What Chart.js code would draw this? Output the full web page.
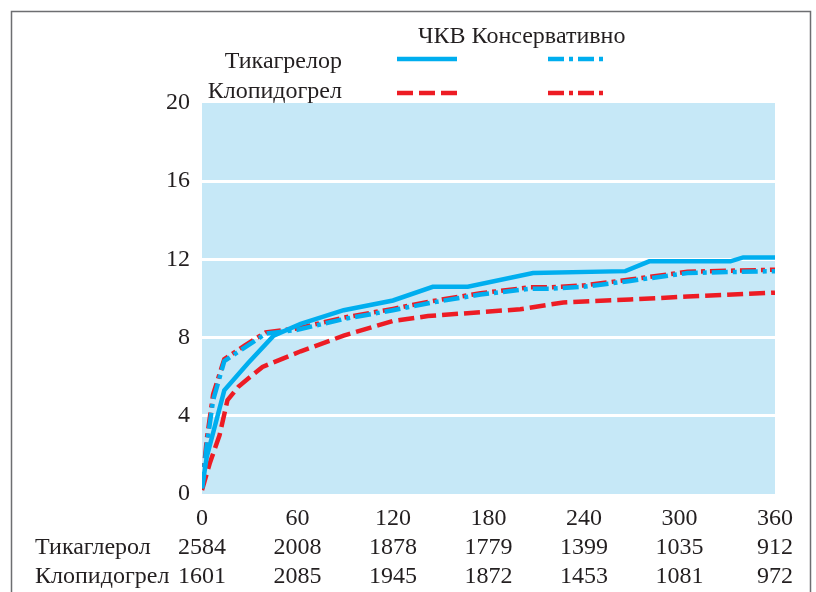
<!DOCTYPE html>
<html>
<head>
<meta charset="utf-8">
<script src="https://cdn.jsdelivr.net/npm/chart.js@4.4.1/dist/chart.umd.min.js"></script>
<style>
  html, body { margin: 0; padding: 0; background: #fff; }
  #wrap { width: 816px; height: 592px; position: relative; }
</style>
</head>
<body>
<div id="wrap"><canvas id="chart" width="816" height="592"></canvas></div>
<script>
// cumulative event rate (%) by day
const ticaPciDays = [0, 3, 14, 29, 45, 62, 89, 120, 145, 167, 208, 266, 281, 332, 340, 360];
const ticaPciVals = [0.3, 1.9, 5.3, 6.7, 8.1, 8.7, 9.4, 9.9, 10.6, 10.6, 11.3, 11.4, 11.9, 11.9, 12.1, 12.1];

const consDays = [0, 3, 7, 14, 27, 40, 60, 89, 120, 145, 175, 206, 219, 240, 269, 305, 330, 360];
const ticaConsVals = [0.3, 2.5, 4.8, 6.8, 7.5, 8.2, 8.4, 8.95, 9.4, 9.8, 10.2, 10.5, 10.5, 10.6, 10.9, 11.3, 11.35, 11.4];
const clopiConsVals = [0.3, 2.8, 5.1, 6.9, 7.6, 8.27, 8.47, 9.02, 9.47, 9.87, 10.27, 10.57, 10.57, 10.67, 10.97, 11.37, 11.42, 11.47];

const clopiPciDays = [0, 5, 11, 16, 23, 38, 62, 89, 120, 142, 175, 200, 227, 269, 305, 360];
const clopiPciVals = [0.2, 1.6, 3.0, 4.8, 5.5, 6.5, 7.3, 8.1, 8.85, 9.1, 9.3, 9.45, 9.8, 9.95, 10.1, 10.3];

const tickDays = [0, 60, 120, 180, 240, 300, 360];
const yTicks = [0, 4, 8, 12, 16, 20];
const rowLabels = ["Тикаглерол", "Клопидогрел"];
const atRiskTica = [2584, 2008, 1878, 1779, 1399, 1035, 912];
const atRiskClopi = [1601, 2085, 1945, 1872, 1453, 1081, 972];

const legendHead = "ЧКВ Консервативно";
const legendRows = ["Тикагрелор", "Клопидогрел"];

const BLUE = "#00aeef";
const RED = "#ed1c24";
const TEXT = "#231f20";
const FAMILY = "'Liberation Serif', 'DejaVu Serif', serif";
const FONT = "24px " + FAMILY;
const DASH = [16, 6];
const DASHDOT = [16, 5, 4, 5];

function pts(days, vals) { return days.map((d, i) => ({ x: d, y: vals[i] })); }

function lineDs(label, days, vals, color, dash) {
  return {
    label,
    data: pts(days, vals),
    borderColor: color,
    borderWidth: 4.5,
    borderDash: dash,
    borderCapStyle: "butt",
    borderJoinStyle: "miter",
    pointRadius: 0,
    tension: 0,
    fill: false,
  };
}

const decor = {
  id: "decor",
  beforeDraw(chart) {
    const { ctx, chartArea: a } = chart;
    ctx.save();
    ctx.fillStyle = "#c6e8f7";
    ctx.fillRect(a.left, a.top, a.right - a.left, a.bottom - a.top);
    ctx.restore();
  },
  afterDraw(chart) {
    const { ctx } = chart;
    const x = chart.scales.x;
    ctx.save();
    // frame
    ctx.strokeStyle = "#6d6e71";
    ctx.lineWidth = 1.5;
    ctx.beginPath();
    ctx.moveTo(11.5, 600); ctx.lineTo(11.5, 11.5); ctx.lineTo(810.5, 11.5); ctx.lineTo(810.5, 600);
    ctx.stroke();

    ctx.fillStyle = TEXT;
    ctx.font = FONT;
    ctx.textBaseline = "alphabetic";
    ctx.textAlign = "left";
    ctx.fillText(legendHead, 418, 43);
    ctx.textAlign = "right";
    ctx.fillText(legendRows[0], 342, 68);
    ctx.fillText(legendRows[1], 342, 98);

    const sample = (x0, y, color, dash) => {
      ctx.strokeStyle = color;
      ctx.lineWidth = 4.5;
      ctx.lineCap = "butt";
      ctx.setLineDash(dash);
      ctx.beginPath(); ctx.moveTo(x0, y); ctx.lineTo(x0 + 60, y); ctx.stroke();
    };
    sample(397, 59, BLUE, []);
    sample(397, 93, RED, DASH);
    sample(548, 59, BLUE, DASHDOT);
    sample(548, 93, RED, DASHDOT);
    ctx.setLineDash([]);

    // numbers at risk
    ctx.fillStyle = TEXT;
    ctx.textBaseline = "middle";
    ctx.textAlign = "left";
    ctx.fillText(rowLabels[0], 35, 548);
    ctx.fillText(rowLabels[1], 35, 577);
    ctx.textAlign = "center";
    tickDays.forEach((d, i) => {
      const px = x.getPixelForValue(d);
      ctx.fillText(String(atRiskTica[i]), px, 548);
      ctx.fillText(String(atRiskClopi[i]), px, 577);
    });
    ctx.restore();
  },
};

new Chart(document.getElementById("chart"), {
  type: "line",
  data: {
    datasets: [
      lineDs("Тикагрелор ЧКВ", ticaPciDays, ticaPciVals, BLUE, []),
      lineDs("Тикагрелор консервативно", consDays, ticaConsVals, BLUE, DASHDOT),
      lineDs("Клопидогрел консервативно", consDays, clopiConsVals, RED, DASHDOT),
      lineDs("Клопидогрел ЧКВ", clopiPciDays, clopiPciVals, RED, DASH),
    ],
  },
  options: {
    responsive: false,
    animation: false,
    devicePixelRatio: 1,
    layout: { padding: { top: 103, right: 41, left: 0, bottom: 0 } },
    plugins: { legend: { display: false }, tooltip: { enabled: false } },
    scales: {
      x: {
        type: "linear",
        min: 0,
        max: 360,
        afterFit(s) { s.height = 98; },
        afterBuildTicks(s) { s.ticks = tickDays.map(v => ({ value: v })); },
        grid: { display: false, drawTicks: false },
        border: { display: false },
        ticks: { color: TEXT, font: { family: FAMILY, size: 24 }, padding: 10, maxRotation: 0, autoSkip: false },
      },
      y: {
        min: 0,
        max: 20,
        afterFit(s) { s.width = 202; },
        afterBuildTicks(s) { s.ticks = yTicks.map(v => ({ value: v })); },
        grid: {
          drawTicks: false,
          lineWidth: 3,
          color: c => (c.tick && c.tick.value > 0 && c.tick.value < 20) ? "#ffffff" : "rgba(0,0,0,0)",
        },
        border: { display: false },
        ticks: { color: TEXT, font: { family: FAMILY, size: 24 }, padding: 12 },
      },
    },
  },
  plugins: [decor],
});
</script>
</body>
</html>
